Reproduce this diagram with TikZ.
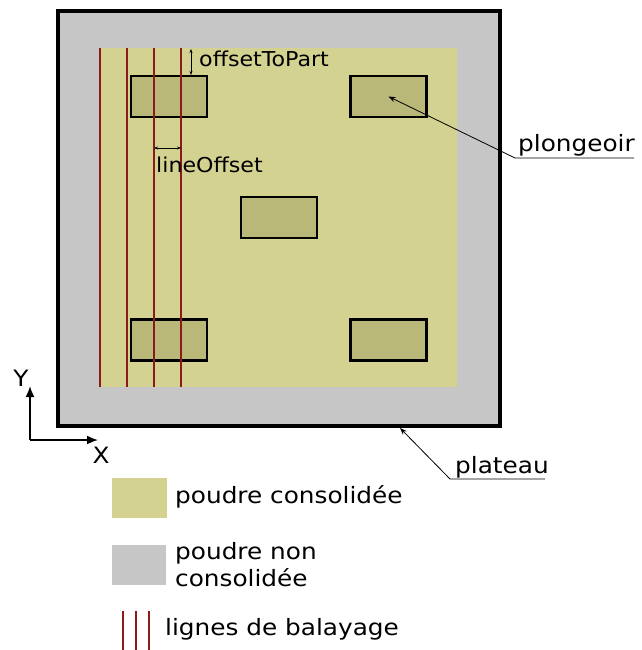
\documentclass[tikz,border=0pt]{standalone}
\usepackage{fontspec}
\setmainfont{DejaVu Sans}
\usetikzlibrary{arrows.meta}
\definecolor{consol}{HTML}{D3D291}
\definecolor{nonconsol}{HTML}{C6C6C6}
\definecolor{piece}{HTML}{B9B878}
\definecolor{balay}{HTML}{8B1A1A}
\begin{document}
\begin{tikzpicture}[x=1pt,y=-1pt,
  txt/.style={font=\fontsize{20.5}{24}\selectfont,inner sep=0pt,xscale=1.08},
  bigtxt/.style={font=\fontsize{22.5}{27}\selectfont,inner sep=0pt,xscale=1.1},
  part/.style={draw=black,line width=2.5pt,fill=piece,minimum width=76pt,minimum height=41pt,inner sep=0pt},
  scanline/.style={balay,line width=1.4pt},
  leader/.style={black,line width=0.8pt}]
\useasboundingbox (0,0) rectangle (641,650);
% plateau et poudre
\draw[line width=4pt,fill=nonconsol] (58,11) rectangle (500,426);
\fill[consol] (100,48) rectangle (457,387);
\coordinate (plateauC) at (400,428);
% plongeoirs
\begin{scope}[every node/.style={part}]
    \node (P1) at (169,96.5) {};
    \node (P2) at (388.5,96.5) {};
    \node (P3) at (279,217.5) {};
    \node (P4) at (169,340) {};
    \node (P5) at (388.5,340) {};
\end{scope}
% lignes de balayage
\foreach \x in {100,127,154,181}
    \draw[scanline] (\x,48) -- (\x,387);
% cotes
\coordinate (oT) at (191,49);
\coordinate (oB) at (191,75);
\draw[leader,{Stealth[length=4pt]}-{Stealth[length=4pt]}] (oT) -- (oB);
\node[txt,anchor=base west] (offT) at (199,67) {offsetToPart};
\coordinate (lL) at (154,148);
\coordinate (lR) at (181,148);
\draw[leader,{Stealth[length=4pt]}-{Stealth[length=4pt]}] (lL) -- (lR);
\node[txt,anchor=base west] (lineO) at (156,172) {lineOffset};
% legendes
\node[bigtxt,anchor=base west] (plong) at (518,151) {plongeoir};
\coordinate (plongL) at (515,158);
\coordinate (plongR) at (634,158);
\draw[leader,-{Stealth[length=7pt]}] (plongR) -- (plongL) -- (P2.center);
\node[bigtxt,anchor=base west] (plat) at (455,473) {plateau};
\coordinate (platL) at (450,479);
\coordinate (platR) at (545,479);
\draw[leader,-{Stealth[length=7pt]}] (platR) -- (platL) -- (plateauC);
% repere
\coordinate (O) at (30,440);
\coordinate (Yend) at (30,386);
\coordinate (Xend) at (98,440);
\draw[line width=1.7pt,-{Latex[length=11pt,width=9pt]}] (O) -- (Yend);
\draw[line width=1.7pt,-{Latex[length=11pt,width=9pt]}] (O) -- (Xend);
\node[bigtxt] (Y) at (21,378) {Y};
\node[bigtxt] (X) at (101,455) {X};
% cartouche
\node[fill=consol,minimum width=55pt,minimum height=40pt,inner sep=0pt] (legC) at (139.5,498) {};
\node[bigtxt,anchor=base west] (legCt) at (175,503) {poudre consolidée};
\node[fill=nonconsol,minimum width=54pt,minimum height=40pt,inner sep=0pt] (legN) at (139,565) {};
\node[bigtxt,anchor=west,align=left] (legNt) at (175,565) {poudre non\\consolidée};
\foreach \x in {123,136,149}
    \draw[scanline] (\x,611) -- (\x,650);
\node[bigtxt,anchor=base west] (legLt) at (165,635) {lignes de balayage};
\end{tikzpicture}
\end{document}
